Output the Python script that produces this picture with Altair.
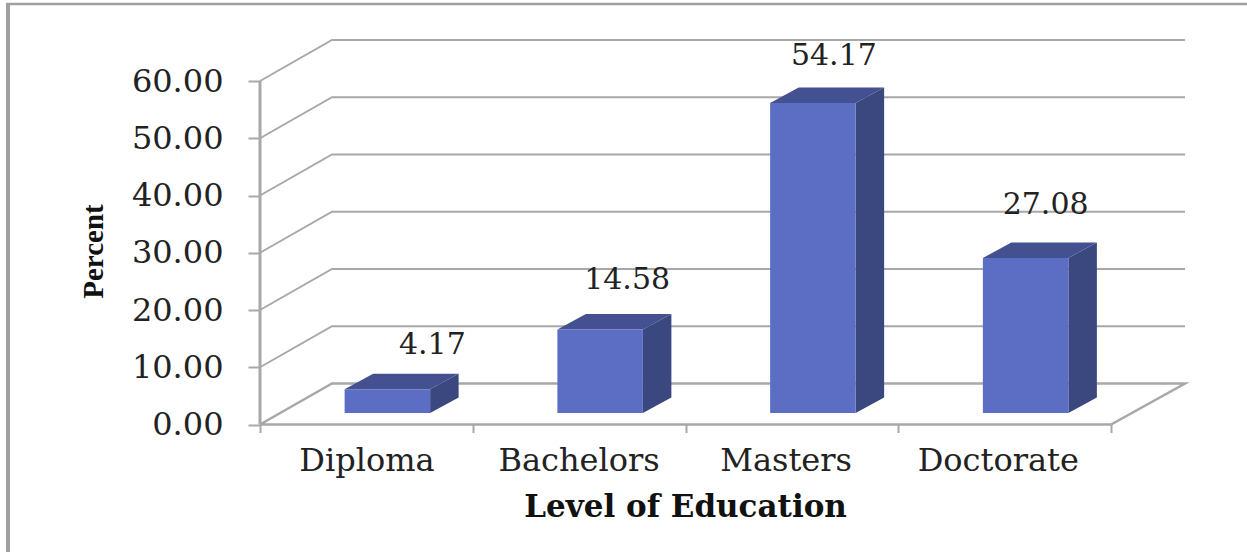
import altair as alt
import pandas as pd

categories = ["Diploma", "Bachelors", "Masters", "Doctorate"]
percent = [4.17, 14.58, 54.17, 27.08]
y_ticks = [0, 10, 20, 30, 40, 50, 60]

# Plot area in pixels; one x unit is one category slot.
PLOT_W, PLOT_H = 925, 384.5
SLOT_PX = 212.75
PCT_PX = 5.725
SERIF = "DejaVu Serif"
GREY = "#a8a8a8"

# Depth of the floor and of each column, in scale units.
FLOOR_DX, FLOOR_DY = 72 / SLOT_PX, 41 / PCT_PX
BAR_DX, BAR_DY = 28.5 / SLOT_PX, 15.5 / PCT_PX
BAR_SHIFT_X, BAR_BASE = 21 / SLOT_PX, 11.5 / PCT_PX
BAR_W = 85.5 / SLOT_PX
X_END = PLOT_W / SLOT_PX
Y_END = PLOT_H / PCT_PX

# Hand-placed labels: pixel nudge from each column's front face, and slot positions.
label_nudge = [(45, 44), (27, 50), (21, 47), (20, 53)]
category_x = [0.503, 1.5, 2.473, 3.47]

x_scale = alt.Scale(domain=[0, X_END], range=[0, PLOT_W], nice=False, zero=False)
y_scale = alt.Scale(domain=[0, Y_END], range=[PLOT_H, 0], nice=False, zero=False)


def X(field, **kw):
    return alt.X(f"{field}:Q", scale=x_scale, axis=None, **kw)


def Y(field, **kw):
    return alt.Y(f"{field}:Q", scale=y_scale, axis=None, **kw)


# Back wall grid with its slanted run along the side wall.
grid_rows = []
for level in y_ticks[1:]:
    for i, (px, py) in enumerate([(0, level), (FLOOR_DX, level + FLOOR_DY), (X_END, level + FLOOR_DY)]):
        grid_rows.append({"level": level, "i": i, "x": px, "y": py})
grid = alt.Chart(pd.DataFrame(grid_rows)).mark_line(color=GREY, strokeWidth=2).encode(
    x=X("x"), y=Y("y"), detail="level:N", order="i:Q"
)

# Floor outline.
floor_pts = [(0, 0), (FLOOR_DX, FLOOR_DY), (X_END, FLOOR_DY), (4, 0), (0, 0)]
floor = alt.Chart(pd.DataFrame(
    [{"i": i, "x": a, "y": b} for i, (a, b) in enumerate(floor_pts)]
)).mark_line(color=GREY, strokeWidth=2.5).encode(x=X("x"), y=Y("y"), order="i:Q")

# Column faces.
front_rows, side_rows, top_rows, label_rows = [], [], [], []
for i, (name, value) in enumerate(zip(categories, percent)):
    x0 = i + 0.5 + BAR_SHIFT_X - BAR_W / 2
    x1 = x0 + BAR_W
    top = BAR_BASE + value
    front_rows.append({"cat": name, "x0": x0, "x1": x1, "y0": BAR_BASE, "y1": top})
    side_rows += [
        {"cat": name, "x": x1, "lo": BAR_BASE, "hi": top},
        {"cat": name, "x": x1 + BAR_DX, "lo": BAR_BASE + BAR_DY, "hi": top + BAR_DY},
    ]
    top_rows += [
        {"cat": name, "x": x0, "lo": top, "hi": top},
        {"cat": name, "x": x0 + BAR_DX, "lo": top, "hi": top + BAR_DY},
        {"cat": name, "x": x1, "lo": top, "hi": top + BAR_DY},
        {"cat": name, "x": x1 + BAR_DX, "lo": top + BAR_DY, "hi": top + BAR_DY},
    ]
    nx, ny = label_nudge[i]
    label_rows.append({
        "x": (x0 + x1) / 2 + nx / SLOT_PX,
        "y": top + ny / PCT_PX,
        "text": f"{value:.2f}",
    })

front = alt.Chart(pd.DataFrame(front_rows)).mark_rect(color="#5c6dc4").encode(
    x=X("x0"), x2="x1:Q", y=Y("y0"), y2="y1:Q"
)
side = alt.Chart(pd.DataFrame(side_rows)).mark_area(color="#3b477f", orient="vertical").encode(
    x=X("x"), y=Y("lo"), y2="hi:Q", detail="cat:N"
)
roof = alt.Chart(pd.DataFrame(top_rows)).mark_area(color="#445190", orient="vertical").encode(
    x=X("x"), y=Y("lo"), y2="hi:Q", detail="cat:N"
)

value_labels = alt.Chart(pd.DataFrame(label_rows)).mark_text(
    font=SERIF, fontSize=30, color="#222222", baseline="middle"
).encode(x=X("x"), y=Y("y"), text="text:N")

# Axes: ticks and numbers come from the axis, the line itself from a rule.
axes = alt.Chart(pd.DataFrame({"x": [0, 1, 2, 3, 4], "y": [0, 10, 20, 30, 40]})).mark_point(opacity=0).encode(
    x=alt.X("x:Q", scale=x_scale, axis=alt.Axis(
        values=[0, 1, 2, 3, 4], labels=False, grid=False, domain=False,
        tickColor=GREY, tickWidth=2, tickSize=8,
        title="Level of Education", titleFont=SERIF, titleFontSize=31,
        titleFontWeight="bold", titleColor="#111111", titleX=425, titleY=68,
    )),
    y=alt.Y("y:Q", scale=y_scale, axis=alt.Axis(
        values=y_ticks, format=".2f", grid=False, domain=False,
        tickColor=GREY, tickWidth=2, tickSize=12,
        labelFont=SERIF, labelFontSize=32, labelColor="#222222", labelPadding=25,
        title="Percent", titleFont="Liberation Serif", titleFontSize=29,
        titleFontWeight="bold", titleColor="#111111", titleX=-152, titleY=211,
    )),
)

y_line = alt.Chart(pd.DataFrame({"x": [0], "y": [0], "y2": [60]})).mark_rule(color=GREY, strokeWidth=3).encode(
    x=X("x"), y=Y("y"), y2="y2:Q"
)

category_labels = alt.Chart(pd.DataFrame({
    "x": category_x, "y": [0, 0, 0, 0], "cat": categories
})).mark_text(font=SERIF, fontSize=32, color="#222222", baseline="middle", dy=36).encode(
    x=X("x"), y=Y("y"), text="cat:N"
)

# Outer frame of the chart: only its top and left edges fall on the page.
frame_anchor = pd.DataFrame({"k": [0]})
frame_top = alt.Chart(frame_anchor).mark_rule(color="#a0a0a0", strokeWidth=2.5).encode(
    x=alt.value(-254), x2=alt.value(PLOT_W + 62), y=alt.value(-36)
)
frame_left = alt.Chart(frame_anchor).mark_rule(color="#a0a0a0", strokeWidth=4).encode(
    x=alt.value(-252), y=alt.value(-37), y2=alt.value(PLOT_H + 128)
)

chart = alt.layer(
    frame_top, frame_left, axes, grid, floor, y_line, side, roof, front, value_labels, category_labels
).resolve_axis(x="independent", y="independent").properties(
    width=PLOT_W,
    height=PLOT_H,
    padding={"left": 260, "top": 40, "right": 62, "bottom": 127.5},
    autosize=alt.AutoSizeParams(type="none"),
    background="white",
).configure_view(stroke=None)

chart.save("out.html", embed_options={"renderer": "svg", "actions": False})
